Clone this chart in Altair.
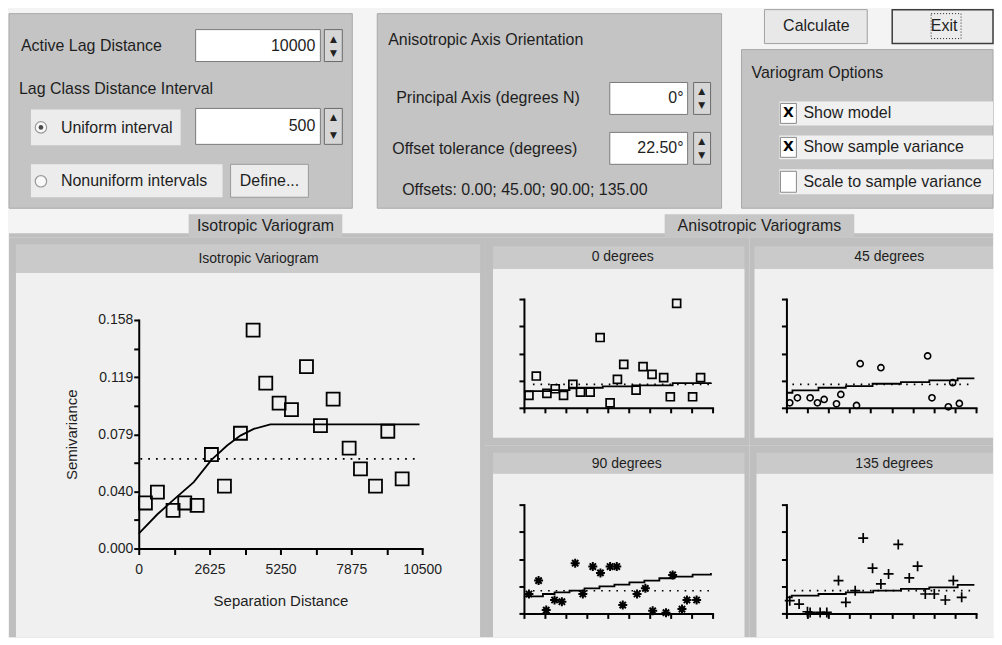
import altair as alt
import pandas as pd

FONT = "Liberation Sans"

# ---------------- data ----------------
ISO_DIST = [247, 692, 1272, 1705, 2162, 2693, 3175, 3768, 4237, 4706, 5200, 5658, 6214, 6732, 7202, 7795, 8215, 8771, 9228, 9759]
ISO_SEMI = [0.0315, 0.039, 0.0264, 0.0315, 0.0299, 0.065, 0.0432, 0.0797, 0.151, 0.1144, 0.1006, 0.096, 0.1258, 0.085, 0.1033, 0.0694, 0.0551, 0.0432, 0.0811, 0.0482]
ISO_MODEL_DIST = [0, 692, 1297, 2038, 2693, 3274, 3768, 4262, 4879, 10402]
ISO_MODEL_SEMI = [0.0103, 0.0237, 0.0338, 0.0459, 0.0613, 0.0712, 0.0781, 0.0827, 0.0859, 0.0859]
ISO_VAR = 0.062
ISO_VAR_FROM = 62
ISO_VAR_TO = 10376
ISO_X_TICKS = [0, 1312.5, 2625, 3937.5, 5250, 6562.5, 7875, 9187.5, 10500]
ISO_X_LABELS = ["0", "", "2625", "", "5250", "", "7875", "", "10500"]
ISO_Y_TICKS = [0, 0.01975, 0.0395, 0.05925, 0.079, 0.09875, 0.1185, 0.13825, 0.158]
ISO_Y_LABELS = ["0.000", "", "0.040", "", "0.079", "", "0.119", "", "0.158"]

SMALL_X_TICKS = [0, 1200, 2400, 3600, 4800, 6000, 7200, 8400, 9600, 10800]
SMALL_Y_TICKS = [0, 0.079, 0.158, 0.237, 0.316]

D0_DIST = [286, 705, 1314, 1790, 2267, 2800, 3238, 3790, 4362, 4933, 5352, 5714, 6419, 6819, 7333, 8000, 8381, 8743, 9657, 10114]
D0_SEMI = [0.036, 0.0924, 0.0418, 0.0554, 0.036, 0.068, 0.0457, 0.0457, 0.2042, 0.0146, 0.0826, 0.1264, 0.0515, 0.1196, 0.0972, 0.0875, 0.0321, 0.3034, 0.0321, 0.0875]
D0_MODEL_DIST = [0, 1467, 2610, 4514, 6229, 8514, 10705]
D0_MODEL_SEMI = [0.0486, 0.0515, 0.0583, 0.0622, 0.0651, 0.0720, 0.0739]
D0_VAR = [514, 10705, 0.068]

D45_DIST = [190, 627, 1350, 1768, 2149, 2852, 3099, 3993, 4202, 5381, 8043, 8290, 9222, 9469, 9849]
D45_SEMI = [0.0146, 0.0292, 0.0292, 0.0146, 0.0243, 0.0117, 0.0389, 0.0068, 0.1283, 0.1167, 0.1507, 0.0292, 0.0029, 0.0729, 0.0126]
D45_MODEL_DIST = [0, 342, 1825, 3385, 4906, 6522, 8138, 9754, 10705]
D45_MODEL_SEMI = [0.0438, 0.0506, 0.0583, 0.0632, 0.070, 0.0749, 0.0797, 0.0856, 0.0856]
D45_VAR = [342, 10515, 0.068]

D90_DIST = [286, 838, 1276, 1752, 2171, 2933, 3371, 3943, 4381, 4933, 5314, 5657, 6476, 6952, 7371, 8133, 8514, 9048, 9333, 9886]
D90_SEMI = [0.0564, 0.0953, 0.0097, 0.0389, 0.034, 0.1458, 0.0564, 0.1361, 0.1176, 0.1361, 0.1361, 0.0243, 0.0564, 0.0729, 0.0078, 0.002, 0.1118, 0.0126, 0.0389, 0.0389]
D90_MODEL_DIST = [0, 514, 1086, 1752, 2610, 3467, 4324, 5181, 6038, 6895, 7752, 8610, 9657, 10705]
D90_MODEL_SEMI = [0.0496, 0.0496, 0.0564, 0.0613, 0.0661, 0.0729, 0.0788, 0.0836, 0.0904, 0.0953, 0.1021, 0.107, 0.1128, 0.1176]
D90_VAR = [514, 10610, 0.066]

D135_DIST = [190, 722, 1198, 1350, 1920, 2301, 2966, 3385, 3917, 4373, 4906, 5381, 5818, 6370, 6997, 7472, 7910, 8423, 9051, 9507, 9982]
D135_SEMI = [0.0369, 0.0272, 0.0049, 0.0029, 0.0029, 0.0029, 0.0953, 0.0321, 0.0661, 0.2188, 0.1313, 0.0856, 0.1147, 0.2003, 0.1031, 0.1371, 0.0564, 0.0564, 0.0389, 0.0953, 0.0467]
D135_MODEL_DIST = [0, 304, 1825, 3385, 4944, 6522, 8138, 9754, 10705]
D135_MODEL_SEMI = [0.0467, 0.0515, 0.0564, 0.0613, 0.0661, 0.071, 0.0758, 0.0826, 0.0826]
D135_VAR = [437, 10515, 0.0661]

# ---------------- GUI layout (page pixels) ----------------
OX, OY = 8, 8
FRAME = "#bfbfbf"
BAR = "#cacaca"
PLOTBG = "#f0f0f0"
PANEL = "#c4c4c4"
TXT = "#1e1e1e"

GUI_RECTS = [
    (8, 994, 232, 236, FRAME, "transparent", 0),
    (8, 352, 12, 207, PANEL, "#a9a9a9", 1),
    (195, 320, 28, 60, "white", "#7a7a7a", 1),
    (324, 342, 28, 60, "#d6d6d6", "#6a6a6a", 1),
    (30, 180, 108, 144, "#ececec", "transparent", 0),
    (195, 320, 107, 143, "white", "#7a7a7a", 1),
    (324, 342, 107, 143, "#d6d6d6", "#6a6a6a", 1),
    (30, 222, 163, 196, "#ececec", "transparent", 0),
    (230, 308, 163, 196, "#ececec", "#9a9a9a", 1),
    (377, 722, 12, 207, PANEL, "#a9a9a9", 1),
    (610, 688, 81, 113, "white", "#7a7a7a", 1),
    (694, 711, 81, 113, "#d6d6d6", "#6a6a6a", 1),
    (610, 688, 131, 163, "white", "#7a7a7a", 1),
    (694, 711, 131, 163, "#d6d6d6", "#6a6a6a", 1),
    (765, 868, 8, 42, "#e8e8e8", "#a0a0a0", 1),
    (893, 994, 8, 42, "#ececec", "#3c3c3c", 1.5),
    (742, 994, 48, 207, PANEL, "#a9a9a9", 1),
    (780, 994, 100, 124, "#f0f0f0", "transparent", 0),
    (780, 994, 134, 158, "#f0f0f0", "transparent", 0),
    (780, 994, 168, 193, "#f0f0f0", "transparent", 0),
    (781, 797, 102, 122, "white", "#8a8a8a", 1),
    (781, 797, 136, 156, "white", "#8a8a8a", 1),
    (781, 797, 170, 191, "white", "#8a8a8a", 1),
    (188, 342, 213, 236, "#c6c6c6", "transparent", 0),
    (665, 855, 213, 236, "#c6c6c6", "transparent", 0),
]
GUI_TEXT_LEFT = [
    ("Active Lag Distance", 20, 44, 16),
    ("Lag Class Distance Interval", 18, 88, 16),
    ("Uniform interval", 60, 127, 16),
    ("Nonuniform intervals", 60, 180, 16),
    ("Anisotropic Axis Orientation", 388, 38, 16),
    ("Principal Axis (degrees N)", 396, 97, 16),
    ("Offset tolerance (degrees)", 392, 148, 16),
    ("Offsets: 0.00; 45.00; 90.00; 135.00", 402, 189, 16),
    ("Variogram Options", 752, 72, 16),
    ("Show model", 804, 112, 16),
    ("Show sample variance", 804, 146, 16),
    ("Scale to sample variance", 804, 181, 16),
]
GUI_TEXT_RIGHT = [
    ("10000", 315, 44, 16), ("500", 315, 125, 16),
    ("0°", 684, 97, 16), ("22.50°", 684, 147, 16),
]
GUI_TEXT_CENTER = [
    ("Define...", 269, 180, 16), ("Calculate", 817, 24, 16), ("Exit", 945, 24, 16),
    ("Isotropic Variogram", 265, 225, 16), ("Anisotropic Variograms", 760, 225, 16),
]
GUI_ARROWS = [
    ("▲", 333, 37), ("▼", 333, 51), ("▲", 333, 116), ("▼", 333, 134),
    ("▲", 702, 90), ("▼", 702, 104), ("▲", 702, 140), ("▼", 702, 154),
]
GUI_CHECKS = [("X", 789, 112), ("X", 789, 146)]
GUI_RADIO = [(40, 126), (40, 180)]
GUI_RADIO_ON = [(40, 126)]

DUMMY = pd.DataFrame({"a": [0]})


def top_chart():
    r = pd.DataFrame(GUI_RECTS, columns=["x", "x2", "y", "y2", "fill", "stroke", "sw"])
    r[["x", "x2"]] -= OX
    r[["y", "y2"]] -= OY
    rects = alt.Chart(r).mark_rect().encode(
        x=alt.X("x:Q", scale=None), x2="x2:Q",
        y=alt.Y("y:Q", scale=None), y2="y2:Q",
        fill=alt.Fill("fill:N", scale=None),
        stroke=alt.Stroke("stroke:N", scale=None),
        strokeWidth=alt.StrokeWidth("sw:Q", scale=None),
    )
    focus = alt.Chart(DUMMY).mark_rect(fill="transparent", stroke="#222", strokeDash=[1, 2]).encode(
        x=alt.value(932 - OX), x2=alt.value(962 - OX), y=alt.value(12 - OY), y2=alt.value(37 - OY))
    layers = [rects, focus]
    for rows, align in [(GUI_TEXT_LEFT, "left"), (GUI_TEXT_RIGHT, "right"), (GUI_TEXT_CENTER, "center")]:
        t = pd.DataFrame(rows, columns=["t", "x", "y", "s"])
        t["x"] -= OX
        t["y"] -= OY
        layers.append(alt.Chart(t).mark_text(align=align, baseline="middle", font=FONT, color=TXT).encode(
            x=alt.X("x:Q", scale=None), y=alt.Y("y:Q", scale=None), text="t:N",
            size=alt.Size("s:Q", scale=None)))
    a = pd.DataFrame(GUI_ARROWS, columns=["t", "x", "y"])
    a["x"] -= OX
    a["y"] -= OY
    layers.append(alt.Chart(a).mark_text(font="DejaVu Sans", fontSize=9, color="#222", baseline="middle").encode(
        x=alt.X("x:Q", scale=None), y=alt.Y("y:Q", scale=None), text="t:N"))
    c = pd.DataFrame(GUI_CHECKS, columns=["t", "x", "y"])
    c["x"] -= OX
    c["y"] -= OY
    layers.append(alt.Chart(c).mark_text(font="DejaVu Sans", fontSize=14, fontWeight="bold", color="black", baseline="middle").encode(
        x=alt.X("x:Q", scale=None), y=alt.Y("y:Q", scale=None), text="t:N"))
    rd = pd.DataFrame(GUI_RADIO, columns=["x", "y"])
    rd["x"] -= OX
    rd["y"] -= OY
    layers.append(alt.Chart(rd).mark_point(shape="circle", filled=True, fill="white", stroke="#777", strokeWidth=1.2, size=130).encode(
        x=alt.X("x:Q", scale=None), y=alt.Y("y:Q", scale=None)))
    ro = pd.DataFrame(GUI_RADIO_ON, columns=["x", "y"])
    ro["x"] -= OX
    ro["y"] -= OY
    layers.append(alt.Chart(ro).mark_point(shape="circle", filled=True, color="black", size=22).encode(
        x=alt.X("x:Q", scale=None), y=alt.Y("y:Q", scale=None)))
    return alt.layer(*layers).properties(width=986, height=228)


def vrect(x1, x2, y1, y2, fill):
    return alt.Chart(DUMMY).mark_rect(fill=fill).encode(
        x=alt.value(x1), x2=alt.value(x2), y=alt.value(y1), y2=alt.value(y2))


def vtext(t, x, y, size):
    return alt.Chart(DUMMY).mark_text(text=t, font=FONT, fontSize=size, color=TXT, align="center", baseline="middle").encode(
        x=alt.value(x), y=alt.value(y))


def frame_layers(w, h, bar, plot, title, tx, ty, tsize):
    return [vrect(0, w, 0, h, FRAME), vrect(*bar, BAR), vrect(*plot, PLOTBG), vtext(title, tx, ty, tsize)]


def label_expr(labels, step):
    arr = "[" + ",".join("'" + s + "'" for s in labels) + "]"
    return f"{arr}[round(datum.value / {step})]"


AX_STYLE = dict(domainColor="black", tickColor="black", domainWidth=2, tickWidth=2, grid=False,
                zindex=1, labelFont=FONT, labelColor=TXT, titleFont=FONT, titleColor=TXT,
                titleFontWeight="normal", labelFlush=False, labelOverlap=False, domainCap="square")


def iso_chart():
    W, H = 477, 401
    xs = alt.Scale(domain=[0, 10500], range=[130, 414], nice=False, zero=False)
    ys = alt.Scale(domain=[0, 0.158], range=[312, 83], nice=False, zero=False)
    xa = alt.Axis(values=ISO_X_TICKS, labelExpr=label_expr(ISO_X_LABELS, ISO_X_TICKS[1] - ISO_X_TICKS[0]),
                  offset=312 - H, tickSize=6, labelPadding=8, labelFontSize=14,
                  title="Separation Distance", titleFontSize=15, titlePadding=17, **AX_STYLE)
    ya = alt.Axis(values=ISO_Y_TICKS, labelExpr=label_expr(ISO_Y_LABELS, ISO_Y_TICKS[1] - ISO_Y_TICKS[0]),
                  offset=-130, tickSize=5, labelPadding=1, labelFontSize=14,
                  title="Semivariance", titleFontSize=15, titlePadding=18, **AX_STYLE)
    X = alt.X("d:Q", scale=xs, axis=xa)
    Y = alt.Y("s:Q", scale=ys, axis=ya)
    pts = pd.DataFrame({"d": ISO_DIST, "s": ISO_SEMI})
    model = pd.DataFrame({"d": ISO_MODEL_DIST, "s": ISO_MODEL_SEMI})
    var = pd.DataFrame({"d": [ISO_VAR_FROM], "d2": [ISO_VAR_TO], "s": [ISO_VAR]})
    layers = frame_layers(W, H, (7, 472, 7, 36), (7, 472, 36, H), "Isotropic Variogram", 250, 22, 14)
    layers.append(alt.Chart(pts).mark_point(shape="square", filled=False, color="black", strokeWidth=1.8, size=170, opacity=1).encode(
        x=X, y=Y))
    layers.append(alt.Chart(var).mark_rule(color="black", strokeWidth=1.8, strokeDash=[1.8, 6]).encode(
        x=X, x2="d2:Q", y=Y))
    layers.append(alt.Chart(model).mark_line(color="black", strokeWidth=1.8).encode(x=X, y=Y))
    return alt.layer(*layers).properties(width=W, height=H)


ASTERISK = "M-1,0L1,0M0,-1L0,1M-0.7,-0.7L0.7,0.7M-0.7,0.7L0.7,-0.7"
PLUS = "M-1,0L1,0M0,-1L0,1"


def small_chart(W, H, bar, plot, title, tx, ty, xr, yr, dist, semi, mdist, msemi, var, shape, size, sw):
    xs = alt.Scale(domain=[0, 10800], range=xr, nice=False, zero=False)
    ys = alt.Scale(domain=[0, 0.316], range=yr, nice=False, zero=False)
    xa = alt.Axis(values=SMALL_X_TICKS, labels=False, title="", offset=yr[0] - H, tickSize=5, **AX_STYLE)
    ya = alt.Axis(values=SMALL_Y_TICKS, labels=False, title="", offset=-xr[0], tickSize=5, **AX_STYLE)
    X = alt.X("d:Q", scale=xs, axis=xa)
    Y = alt.Y("s:Q", scale=ys, axis=ya)
    pts = pd.DataFrame({"d": dist, "s": semi})
    model = pd.DataFrame({"d": mdist, "s": msemi})
    v = pd.DataFrame({"d": [var[0]], "d2": [var[1]], "s": [var[2]]})
    layers = frame_layers(W, H, bar, plot, title, tx, ty, 14)
    layers.append(alt.Chart(pts).mark_point(shape=shape, filled=False, color="black", strokeWidth=sw, size=size, opacity=1).encode(
        x=X, y=Y))
    layers.append(alt.Chart(v).mark_rule(color="black", strokeWidth=1.6, strokeDash=[1.6, 6]).encode(
        x=X, x2="d2:Q", y=Y))
    layers.append(alt.Chart(model).mark_line(color="black", strokeWidth=1.8, interpolate="step-after").encode(
        x=X, y=Y))
    return alt.layer(*layers).properties(width=W, height=H)


p0 = small_chart(265, 209, (8, 260, 9, 32), (8, 260, 32, 201), "0 degrees", 138, 20,
                 [39, 228], [171, 62], D0_DIST, D0_SEMI, D0_MODEL_DIST, D0_MODEL_SEMI, D0_VAR, "square", 64, 1.7)
p45 = small_chart(244, 209, (5, 244, 9, 32), (5, 244, 32, 201), "45 degrees", 140, 20,
                  [37, 227], [171, 62], D45_DIST, D45_SEMI, D45_MODEL_DIST, D45_MODEL_SEMI, D45_VAR, "circle", 38, 1.6)
p90 = small_chart(265, 192, (8, 260, 7, 28), (8, 260, 28, 192), "90 degrees", 142, 18,
                  [39, 228], [168, 59], D90_DIST, D90_SEMI, D90_MODEL_DIST, D90_MODEL_SEMI, D90_VAR, ASTERISK, 81, 2)
p135 = small_chart(244, 192, (7, 244, 7, 28), (7, 244, 28, 192), "135 degrees", 145, 18,
                   [37, 227], [168, 59], D135_DIST, D135_SEMI, D135_MODEL_DIST, D135_MODEL_SEMI, D135_VAR, PLUS, 100, 1.7)

right = alt.vconcat(alt.hconcat(p0, p45, spacing=0), alt.hconcat(p90, p135, spacing=0), spacing=0)
bottom = alt.hconcat(iso_chart(), right, spacing=0)
chart = alt.vconcat(top_chart(), bottom, spacing=0).properties(
    padding=0, background="#f4f4f4"
).configure_view(strokeWidth=0).configure_concat(spacing=0)

chart.save("out.html", embed_options={"renderer": "svg", "actions": False})
